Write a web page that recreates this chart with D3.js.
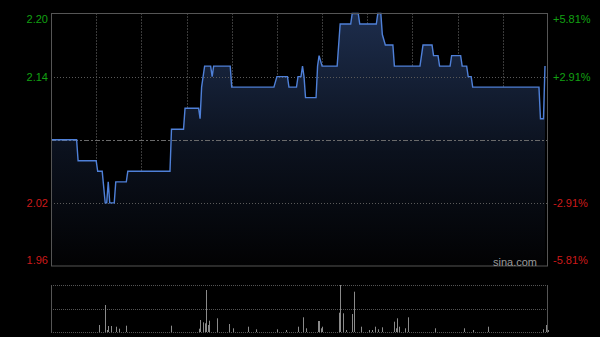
<!DOCTYPE html>
<html>
<head>
<meta charset="utf-8">
<script src="https://cdn.jsdelivr.net/npm/d3@7"></script>
<style>
  body { margin: 0; background: #000; }
  svg text { font-family: "Liberation Sans", Arial, sans-serif; font-size: 11px; }
</style>
</head>
<body>
<div id="chart"></div>
<script>
var width = 600, height = 337;

// price breakpoints: minute of the trading day (0..330) and price
var priceMinutes = [0, 17, 18, 30, 31, 34, 36, 37, 38, 39, 42, 43, 50, 51, 79, 80, 88, 89, 98, 99, 100, 102,
  106, 107, 108, 119, 120, 148, 150, 157, 158, 163, 164, 166, 167, 168, 169, 176, 177, 178, 180, 190, 192,
  199, 200, 204, 205, 216, 217, 219, 220, 222, 227, 228, 245, 247, 253, 254, 257, 258, 265, 266, 272, 273,
  276, 277, 279, 280, 324, 325, 327, 328];
var priceValues = [2.08, 2.08, 2.06, 2.06, 2.05, 2.05, 2.02, 2.02, 2.04, 2.02, 2.02, 2.04, 2.04, 2.05, 2.05, 2.09, 2.09, 2.11, 2.11, 2.10, 2.13, 2.15,
  2.15, 2.14, 2.15, 2.15, 2.13, 2.13, 2.14, 2.14, 2.13, 2.13, 2.14, 2.14, 2.15, 2.14, 2.12, 2.12, 2.15, 2.16, 2.15, 2.15, 2.19,
  2.19, 2.20, 2.20, 2.19, 2.19, 2.20, 2.20, 2.18, 2.17, 2.17, 2.15, 2.15, 2.17, 2.17, 2.16, 2.16, 2.15, 2.15, 2.16, 2.16, 2.15,
  2.15, 2.14, 2.14, 2.13, 2.13, 2.10, 2.10, 2.15];

// volume bars (thousand shares)
var volMinutes = [32, 36, 37, 38, 40, 43, 45, 50, 80, 98, 99, 101, 102, 103, 104, 105, 110, 118, 121, 131, 136, 150, 156, 164,
  167, 169, 177, 178, 179, 180, 191, 192, 194, 196, 200, 201, 206, 211, 213, 215, 217, 220, 228, 229, 230, 231, 235, 237,
  255, 274, 280, 290, 327, 329, 330];
var volValues = [70, 270, 20, 60, 60, 53, 33, 63, 63, 33, 120, 97, 87, 420, 70, 113, 137, 80, 37, 53, 27, 27, 20, 53,
  147, 37, 110, 110, 37, 53, 193, 470, 187, 20, 180, 403, 53, 20, 20, 53, 27, 47, 103, 37, 137, 53, 37, 147,
  37, 37, 20, 53, 27, 70, 20];

var prevClose = 2.08;
var leftTicks = [2.20, 2.14, 2.02, 1.96];
var rightTicks = ["+5.81%", "+2.91%", "-2.91%", "-5.81%"];
var gridMinutes = [30, 60, 90, 120, 150, 180, 210, 240, 270, 300];

var svg = d3.select("#chart")
  .append("svg")
    .attr("width", width)
    .attr("height", height)
    .style("background-color", "#000");

var x = d3.scaleLinear().domain([0, 330]).range([51, 548]);
var y = d3.scaleLinear().domain([1.96, 2.20]).range([266, 13.5]);
var yv = d3.scaleLinear().domain([0, d3.max(volValues)]).range([332, 285]);

var price = priceMinutes.map(function(m, i) { return {m: m, p: priceValues[i]}; });
var vols = volMinutes.map(function(m, i) { return {m: m, v: volValues[i]}; });

// fill gradient
var defs = svg.append("defs");
var grad = defs.append("linearGradient")
  .attr("id", "area-grad")
  .attr("gradientUnits", "userSpaceOnUse")
  .attr("x1", 0).attr("x2", 0)
  .attr("y1", 13).attr("y2", 266);
grad.append("stop").attr("offset", "0%").style("stop-color", "#1d2d4c");
grad.append("stop").attr("offset", "55%").style("stop-color", "#0b111d");
grad.append("stop").attr("offset", "100%").style("stop-color", "#020203");

// vertical grid
svg.append("g").selectAll("line")
  .data(gridMinutes)
  .enter().append("line")
    .attr("x1", function(d) { return Math.round(x(d)) + 0.5; })
    .attr("x2", function(d) { return Math.round(x(d)) + 0.5; })
    .attr("y1", 13)
    .attr("y2", 266)
    .attr("stroke", "#3a3a3a")
    .attr("stroke-dasharray", "2,1");

// area + line
svg.append("path")
  .datum(price)
  .attr("fill", "url(#area-grad)")
  .attr("d", d3.area()
    .x(function(d) { return x(d.m); })
    .y0(266)
    .y1(function(d) { return y(d.p); }));

// horizontal grid on top of the fill
svg.append("g").selectAll("line")
  .data([2.14, 2.02])
  .enter().append("line")
    .attr("x1", 51).attr("x2", 548)
    .attr("y1", function(d) { return Math.round(y(d)) + 0.5; })
    .attr("y2", function(d) { return Math.round(y(d)) + 0.5; })
    .attr("stroke", "#5a5a5a")
    .attr("stroke-dasharray", "1,2");

svg.append("line")
  .attr("x1", 51).attr("x2", 548)
  .attr("y1", Math.round(y(prevClose)) + 0.5)
  .attr("y2", Math.round(y(prevClose)) + 0.5)
  .attr("stroke", "#6a6a6a")
  .attr("stroke-dasharray", "5,2,2,2");

svg.append("path")
  .datum(price)
  .attr("fill", "none")
  .attr("stroke", "#4f80d8")
  .attr("stroke-width", 1.4)
  .attr("d", d3.line()
    .x(function(d) { return x(d.m); })
    .y(function(d) { return y(d.p); }));

// frame
svg.append("rect")
  .attr("x", 51.5).attr("y", 13.5)
  .attr("width", 496).attr("height", 252.5)
  .attr("fill", "none")
  .attr("stroke", "#555");

// left labels
var labelY = [19, 77, 203, 260];
svg.append("g").selectAll("text")
  .data(leftTicks)
  .enter().append("text")
    .attr("x", 48)
    .attr("y", function(d, i) { return labelY[i]; })
    .attr("dy", "0.35em")
    .attr("text-anchor", "end")
    .attr("fill", function(d) { return d > prevClose ? "#12a012" : "#cc1a1a"; })
    .text(function(d) { return d.toFixed(2); });

svg.append("g").selectAll("text")
  .data(rightTicks)
  .enter().append("text")
    .attr("x", 553)
    .attr("y", function(d, i) { return labelY[i]; })
    .attr("dy", "0.35em")
    .attr("fill", function(d) { return d[0] == "+" ? "#12a012" : "#cc1a1a"; })
    .text(function(d) { return d; });

svg.append("text")
  .attr("x", 537)
  .attr("y", 262)
  .attr("dy", "0.35em")
  .attr("text-anchor", "end")
  .attr("fill", "#9a9a9a")
  .text("sina.com");

// volume panel
svg.append("g").selectAll("line")
  .data([285, 309, 332])
  .enter().append("line")
    .attr("x1", 51).attr("x2", 548)
    .attr("y1", function(d) { return d + 0.5; })
    .attr("y2", function(d) { return d + 0.5; })
    .attr("stroke", "#555")
    .attr("stroke-dasharray", "1,1");

svg.append("line")
  .attr("x1", 51.5).attr("x2", 51.5)
  .attr("y1", 285).attr("y2", 333)
  .attr("stroke", "#555");
svg.append("line")
  .attr("x1", 547.5).attr("x2", 547.5)
  .attr("y1", 285).attr("y2", 333)
  .attr("stroke", "#555");

svg.append("g").selectAll("line")
  .data(vols)
  .enter().append("line")
    .attr("x1", function(d) { return Math.round(x(d.m)) + 0.5; })
    .attr("x2", function(d) { return Math.round(x(d.m)) + 0.5; })
    .attr("y1", 332)
    .attr("y2", function(d) { return yv(d.v); })
    .attr("stroke", "#8a8a8a");
</script>
</body>
</html>
